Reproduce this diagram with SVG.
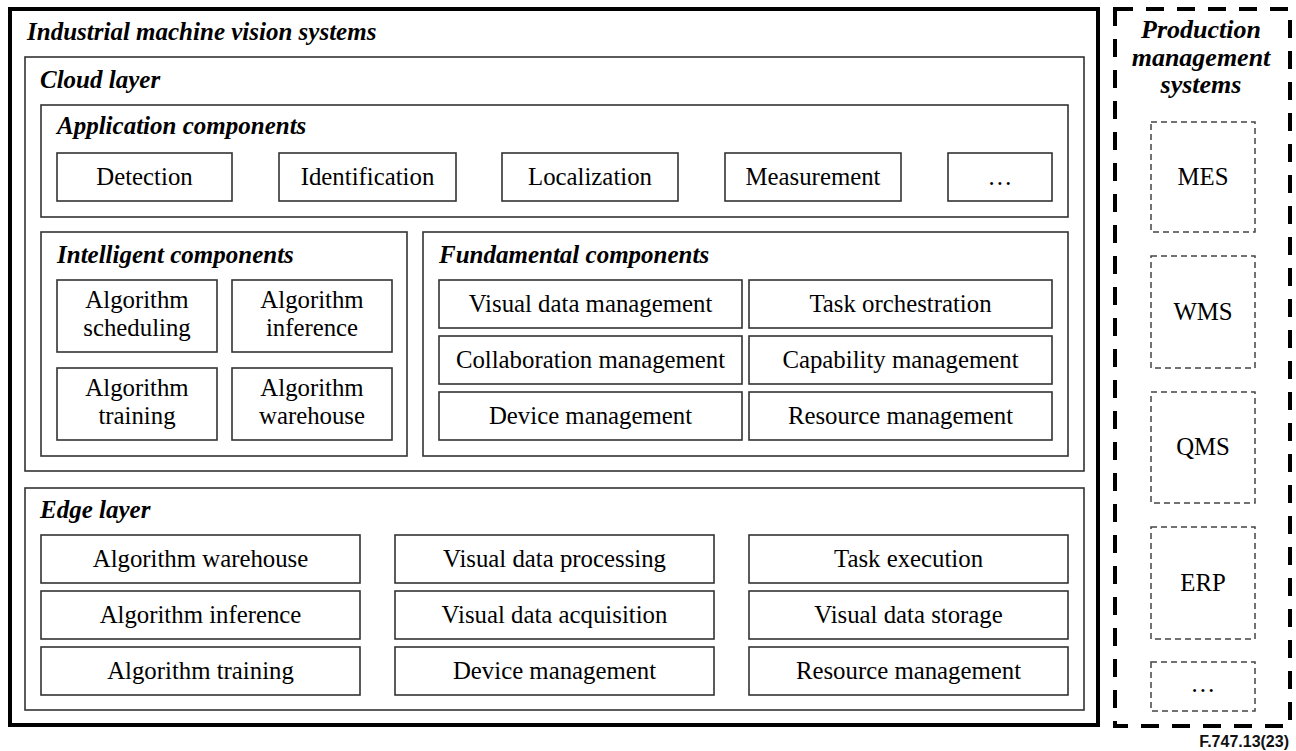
<svg xmlns="http://www.w3.org/2000/svg" width="1296" height="751" viewBox="0 0 1296 751">
<style>
.outer{fill:none;stroke:#000;stroke-width:4}
.pm{fill:none;stroke:#000;stroke-width:4;stroke-dasharray:18 13}
.layer{fill:none;stroke:#333;stroke-width:1.6}
.box{fill:#fff;stroke:#333;stroke-width:1.6}
.dbox{fill:#fff;stroke:#444;stroke-width:1.5;stroke-dasharray:6 4}
.h{font-family:"Liberation Serif","Times New Roman",serif;font-weight:bold;font-style:italic;font-size:25px;fill:#000}
.ph{font-family:"Liberation Serif","Times New Roman",serif;font-weight:bold;font-style:italic;font-size:26px;fill:#000;text-anchor:middle}
.t{font-family:"Liberation Serif","Times New Roman",serif;font-size:24.8px;fill:#000;text-anchor:middle}
.fn{font-family:"Liberation Sans",Arial,sans-serif;font-weight:bold;font-size:16px;fill:#111;text-anchor:end}
</style>
<rect width="1296" height="751" fill="#fff"/>

<g id="imvs">
<rect class="outer" x="10" y="9" width="1088" height="716"/>
<text class="h" x="27" y="40">Industrial machine vision systems</text>
</g>

<g id="cloud-layer">
<rect class="layer" x="25" y="57" width="1059" height="414"/>
<text class="h" x="40" y="88">Cloud layer</text>
</g>

<g id="application-components">
<rect class="layer" x="41" y="105" width="1027" height="112"/>
<text class="h" x="57" y="134">Application components</text>
</g>
<g id="app-detection"><rect class="box" x="57" y="153" width="175" height="48"/><text class="t" x="144.5" y="185">Detection</text></g>
<g id="app-identification"><rect class="box" x="279" y="153" width="177" height="48"/><text class="t" x="367.5" y="185">Identification</text></g>
<g id="app-localization"><rect class="box" x="502" y="153" width="176" height="48"/><text class="t" x="590" y="185">Localization</text></g>
<g id="app-measurement"><rect class="box" x="725" y="153" width="176" height="48"/><text class="t" x="813" y="185">Measurement</text></g>
<g id="app-more"><rect class="box" x="948" y="153" width="104" height="48"/><text class="t" x="1000" y="185">…</text></g>

<g id="intelligent-components">
<rect class="layer" x="41" y="232" width="366" height="224"/>
<text class="h" x="57" y="263">Intelligent components</text>
</g>
<g id="int-scheduling"><rect class="box" x="57" y="280" width="160" height="72"/><text class="t" x="137" y="308">Algorithm</text><text class="t" x="137" y="336">scheduling</text></g>
<g id="int-inference"><rect class="box" x="232" y="280" width="160" height="72"/><text class="t" x="312" y="308">Algorithm</text><text class="t" x="312" y="336">inference</text></g>
<g id="int-training"><rect class="box" x="57" y="368" width="160" height="72"/><text class="t" x="137" y="396">Algorithm</text><text class="t" x="137" y="424">training</text></g>
<g id="int-warehouse"><rect class="box" x="232" y="368" width="160" height="72"/><text class="t" x="312" y="396">Algorithm</text><text class="t" x="312" y="424">warehouse</text></g>

<g id="fundamental-components">
<rect class="layer" x="423" y="232" width="645" height="224"/>
<text class="h" x="439" y="263">Fundamental components</text>
</g>
<g id="fund-visual-data-management"><rect class="box" x="439" y="280" width="303" height="48"/><text class="t" x="590.5" y="312">Visual data management</text></g>
<g id="fund-task-orchestration"><rect class="box" x="749" y="280" width="303" height="48"/><text class="t" x="900.5" y="312">Task orchestration</text></g>
<g id="fund-collaboration-management"><rect class="box" x="439" y="336" width="303" height="48"/><text class="t" x="590.5" y="368">Collaboration management</text></g>
<g id="fund-capability-management"><rect class="box" x="749" y="336" width="303" height="48"/><text class="t" x="900.5" y="368">Capability management</text></g>
<g id="fund-device-management"><rect class="box" x="439" y="392" width="303" height="48"/><text class="t" x="590.5" y="424">Device management</text></g>
<g id="fund-resource-management"><rect class="box" x="749" y="392" width="303" height="48"/><text class="t" x="900.5" y="424">Resource management</text></g>

<g id="edge-layer">
<rect class="layer" x="25" y="488" width="1059" height="222"/>
<text class="h" x="40" y="518">Edge layer</text>
</g>
<g id="edge-algorithm-warehouse"><rect class="box" x="41" y="535" width="319" height="48"/><text class="t" x="200.5" y="567">Algorithm warehouse</text></g>
<g id="edge-algorithm-inference"><rect class="box" x="41" y="591" width="319" height="48"/><text class="t" x="200.5" y="623">Algorithm inference</text></g>
<g id="edge-algorithm-training"><rect class="box" x="41" y="647" width="319" height="48"/><text class="t" x="200.5" y="679">Algorithm training</text></g>
<g id="edge-visual-data-processing"><rect class="box" x="395" y="535" width="319" height="48"/><text class="t" x="554.5" y="567">Visual data processing</text></g>
<g id="edge-visual-data-acquisition"><rect class="box" x="395" y="591" width="319" height="48"/><text class="t" x="554.5" y="623">Visual data acquisition</text></g>
<g id="edge-device-management"><rect class="box" x="395" y="647" width="319" height="48"/><text class="t" x="554.5" y="679">Device management</text></g>
<g id="edge-task-execution"><rect class="box" x="749" y="535" width="319" height="48"/><text class="t" x="908.5" y="567">Task execution</text></g>
<g id="edge-visual-data-storage"><rect class="box" x="749" y="591" width="319" height="48"/><text class="t" x="908.5" y="623">Visual data storage</text></g>
<g id="edge-resource-management"><rect class="box" x="749" y="647" width="319" height="48"/><text class="t" x="908.5" y="679">Resource management</text></g>

<g id="production-management-systems">
<rect class="pm" x="1115" y="9" width="175" height="717"/>
<text class="ph" x="1201" y="38">Production</text>
<text class="ph" x="1201" y="66">management</text>
<text class="ph" x="1201" y="93">systems</text>
</g>
<g id="pm-mes"><rect class="dbox" x="1151" y="122" width="104" height="110"/><text class="t" x="1203" y="185">MES</text></g>
<g id="pm-wms"><rect class="dbox" x="1151" y="256" width="104" height="112"/><text class="t" x="1203" y="320">WMS</text></g>
<g id="pm-qms"><rect class="dbox" x="1151" y="392" width="104" height="111"/><text class="t" x="1203" y="455">QMS</text></g>
<g id="pm-erp"><rect class="dbox" x="1151" y="527" width="104" height="112"/><text class="t" x="1203" y="591">ERP</text></g>
<g id="pm-more"><rect class="dbox" x="1151" y="662" width="104" height="49"/><text class="t" x="1203" y="692">…</text></g>

<g id="connectors"></g>

<text class="fn" x="1289" y="747">F.747.13(23)</text>
</svg>
